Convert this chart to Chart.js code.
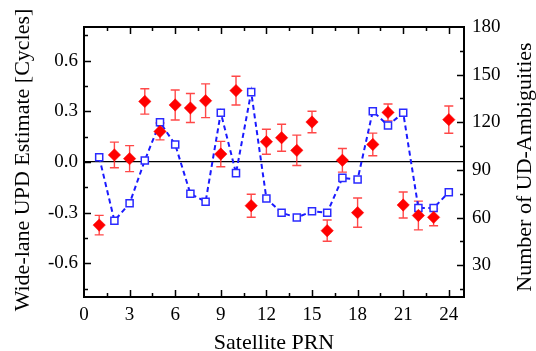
<!DOCTYPE html>
<html>
<head>
<meta charset="utf-8">
<script src="https://cdn.jsdelivr.net/npm/chart.js@4/dist/chart.umd.min.js"></script>
<style>
  html, body { margin: 0; padding: 0; background: #fff; }
  #wrap { width: 536px; height: 351px; position: relative; }
</style>
</head>
<body>
<div id="wrap"><canvas id="c" width="536" height="351"></canvas></div>
<script>
// ---- data ----
const prn = [1,2,3,4,5,6,7,8,9,10,11,12,13,14,15,16,17,18,19,20,21,22,23,24];
const updEstimate = [-0.374, 0.042, 0.020, 0.359, 0.181, 0.338, 0.320, 0.363, 0.047, 0.423, -0.259, 0.120,
                     0.144, 0.069, 0.237, -0.407, 0.010, -0.300, 0.104, 0.294, -0.255, -0.317, -0.328, 0.251];
const updError = [0.058, 0.076, 0.077, 0.075, 0.050, 0.089, 0.086, 0.100, 0.075, 0.085, 0.068, 0.074,
                  0.080, 0.090, 0.064, 0.063, 0.070, 0.087, 0.067, 0.050, 0.077, 0.085, 0.050, 0.081];
const udAmbiguities = [98, 58, 69, 96, 120, 106, 75, 70, 126, 88, 139, 72,
                       63, 60, 64, 63, 85, 84, 127, 118, 126, 66, 66, 76];

const xTitle = 'Satellite PRN';
const yLeftTitle = 'Wide-lane UPD Estimate [Cycles]';
const yRightTitle = 'Number of UD-Ambiguities';

const FONT = "'Liberation Serif', 'Times New Roman', serif";
const TITLE_FONT = "22px " + FONT;

function isMult(v, step) {
  const r = v / step;
  return Math.abs(r - Math.round(r)) < 1e-6;
}

// error bars + inward ticks + frame + axis titles
const decoPlugin = {
  id: 'deco',
  beforeDatasetsDraw(chart) {
    const ctx = chart.ctx;
    const xs = chart.scales.x, ys = chart.scales.y;
    ctx.save();
    ctx.strokeStyle = 'rgba(255,40,40,0.85)';
    ctx.lineWidth = 1.4;
    const cap = 4.5;
    for (let i = 0; i < prn.length; i++) {
      const px = xs.getPixelForValue(prn[i]);
      const top = ys.getPixelForValue(updEstimate[i] + updError[i]);
      const bot = ys.getPixelForValue(updEstimate[i] - updError[i]);
      ctx.beginPath();
      ctx.moveTo(px, top); ctx.lineTo(px, bot);
      ctx.moveTo(px - cap, top); ctx.lineTo(px + cap, top);
      ctx.moveTo(px - cap, bot); ctx.lineTo(px + cap, bot);
      ctx.stroke();
    }
    ctx.restore();
  },
  afterDraw(chart) {
    const ctx = chart.ctx;
    const a = chart.chartArea;
    const xs = chart.scales.x, ys = chart.scales.y, y2 = chart.scales.y2;
    ctx.save();
    ctx.strokeStyle = '#000';
    ctx.lineWidth = 1.5;
    ctx.beginPath();
    xs.ticks.forEach(t => {
      const p = Math.round(xs.getPixelForValue(t.value)) + 0.5;
      if (t.value <= xs.min || t.value >= xs.max) return;
      const len = isMult(t.value, 3) ? 7 : 4;
      ctx.moveTo(p, a.bottom); ctx.lineTo(p, a.bottom - len);
      ctx.moveTo(p, a.top); ctx.lineTo(p, a.top + len);
    });
    ys.ticks.forEach(t => {
      const p = Math.round(ys.getPixelForValue(t.value)) + 0.5;
      if (t.value <= ys.min || t.value >= ys.max) return;
      const len = isMult(t.value, 0.3) ? 7 : 4;
      ctx.moveTo(a.left, p); ctx.lineTo(a.left + len, p);
    });
    y2.ticks.forEach(t => {
      const p = Math.round(y2.getPixelForValue(t.value)) + 0.5;
      if (t.value <= y2.min || t.value >= y2.max) return;
      const len = isMult(t.value, 30) ? 7 : 4;
      ctx.moveTo(a.right, p); ctx.lineTo(a.right - len, p);
    });
    ctx.stroke();
    ctx.lineWidth = 2;
    ctx.strokeRect(a.left, a.top, a.right - a.left, a.bottom - a.top);

    // axis titles
    ctx.fillStyle = '#000';
    ctx.font = TITLE_FONT;
    ctx.textAlign = 'center';
    ctx.textBaseline = 'alphabetic';
    ctx.fillText(xTitle, (a.left + a.right) / 2, 349);

    ctx.save();
    ctx.translate(28.5, (a.top + a.bottom) / 2 - 2);
    ctx.rotate(-Math.PI / 2);
    ctx.fillText(yLeftTitle, 0, 0);
    ctx.restore();

    ctx.save();
    ctx.translate(531, (a.top + a.bottom) / 2 + 5);
    ctx.rotate(-Math.PI / 2);
    ctx.fillText(yRightTitle, 0, 0);
    ctx.restore();

    ctx.restore();
  }
};

new Chart(document.getElementById('c'), {
  type: 'scatter',
  data: {
    datasets: [
      {
        label: 'UPD',
        data: prn.map((p, i) => ({x: p, y: updEstimate[i]})),
        yAxisID: 'y',
        showLine: false,
        pointStyle: 'rectRot',
        pointRadius: 6.2,
        pointBackgroundColor: '#ff0000',
        pointBorderColor: '#ff0000',
        pointBorderWidth: 0.5,
        order: 0
      },
      {
        label: 'Ambiguities',
        data: prn.map((p, i) => ({x: p, y: udAmbiguities[i]})),
        yAxisID: 'y2',
        showLine: true,
        borderColor: '#1a1aff',
        borderWidth: 2,
        borderDash: [5, 3.5],
        fill: false,
        pointStyle: 'rect',
        pointRadius: 5,
        pointBackgroundColor: '#ffffff',
        pointBorderColor: '#2a2aff',
        pointBorderWidth: 1.5,
        order: 1
      }
    ]
  },
  options: {
    responsive: false,
    animation: false,
    devicePixelRatio: 1,
    layout: { padding: { top: 27, right: 0, bottom: 0, left: 0 } },
    plugins: { legend: { display: false }, tooltip: { enabled: false } },
    scales: {
      x: {
        type: 'linear',
        position: 'bottom',
        min: 0, max: 25,
        afterFit(s) { s.height = 54; },
        grid: { display: false, drawTicks: false },
        border: { display: false },
        ticks: {
          stepSize: 1.5,
          includeBounds: false,
          autoSkip: false,
          maxRotation: 0,
          padding: 7,
          color: '#000',
          font: { family: FONT, size: 19 },
          callback: v => isMult(v, 3) ? String(Math.round(v)) : ''
        },
        title: { display: false }
      },
      y: {
        type: 'linear',
        position: 'left',
        min: -0.8, max: 0.8,
        afterFit(s) { s.width = 84; },
        grid: {
          drawTicks: false,
          color: ctx => (ctx.tick && Math.abs(ctx.tick.value) < 1e-9) ? '#000' : 'rgba(0,0,0,0)',
          lineWidth: 1.2
        },
        border: { display: false },
        ticks: {
          stepSize: 0.15,
          includeBounds: false,
          autoSkip: false,
          padding: 6,
          color: '#000',
          font: { family: FONT, size: 19 },
          callback: v => isMult(v, 0.3) ? (Math.abs(v) < 1e-9 ? '0.0' : v.toFixed(1)) : ''
        },
        title: { display: false }
      },
      y2: {
        type: 'linear',
        position: 'right',
        min: 10, max: 180,
        afterFit(s) { s.width = 72; },
        grid: { display: false, drawTicks: false },
        border: { display: false },
        ticks: {
          stepSize: 15,
          includeBounds: false,
          autoSkip: false,
          padding: 8,
          color: '#000',
          font: { family: FONT, size: 19 },
          callback: v => isMult(v, 30) ? String(Math.round(v)) : ''
        },
        title: { display: false }
      }
    }
  },
  plugins: [decoPlugin]
});
</script>
</body>
</html>
